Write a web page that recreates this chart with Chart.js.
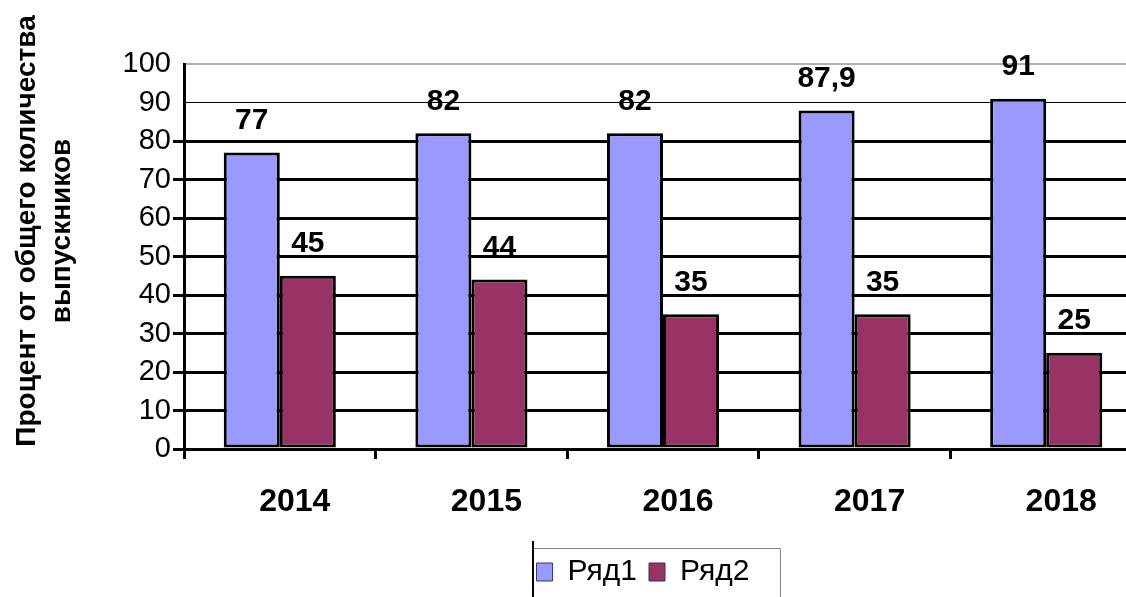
<!DOCTYPE html>
<html>
<head>
<meta charset="utf-8">
<script src="https://cdn.jsdelivr.net/npm/chart.js@4/dist/chart.umd.min.js"></script>
<style>
  html, body { margin: 0; padding: 0; background: #fff; overflow: hidden; }
  #wrap { width: 1142px; height: 597px; }
</style>
</head>
<body>
<div id="wrap"><canvas id="barChart"></canvas></div>
<script>
var years = ['2014', '2015', '2016', '2017', '2018'];
var series1 = [77, 82, 82, 87.9, 91];
var series2 = [45, 44, 35, 35, 25];
var labels1 = ['77', '82', '82', '87,9', '91'];
var labels2 = ['45', '44', '35', '35', '25'];
var yTitle = ['Процент от общего количества', 'выпускников'];

var font = '"Liberation Sans", Arial, sans-serif';

// value labels above each bar
var valueLabels = {
    id: 'valueLabels',
    afterDatasetsDraw: function (chart) {
        var c = chart.ctx;
        var texts = [labels1, labels2];
        c.save();
        c.font = 'bold 30px ' + font;
        c.fillStyle = '#000';
        c.textAlign = 'center';
        c.textBaseline = 'bottom';
        chart.data.datasets.forEach(function (ds, d) {
            chart.getDatasetMeta(d).data.forEach(function (bar, i) {
                c.fillText(texts[d][i], bar.x, bar.y - 17);
            });
        });
        c.restore();
    }
};

// rotated two-line axis title, legend shift and legend frame
var extras = {
    id: 'extras',
    afterLayout: function (chart) {
        chart.legend.left -= 20;
        chart.legend.right -= 20;
    },
    afterDraw: function (chart) {
        var c = chart.ctx;
        c.save();
        c.font = 'bold 28px ' + font;
        c.fillStyle = '#000';
        c.textAlign = 'center';
        c.textBaseline = 'middle';
        c.translate(0, 231);
        c.rotate(-Math.PI / 2);
        c.fillText(yTitle[0], 0, 27);
        c.fillText(yTitle[1], 0, 62);
        c.restore();

        var lg = chart.legend;
        c.save();
        c.font = '30px ' + font;
        var w = 0;
        lg.legendItems.forEach(function (it) { w += 16 + 15 + c.measureText(it.text).width; });
        w += 12 * (lg.legendItems.length - 1);
        var left = Math.round((lg.left + lg.right) / 2 - w / 2) - 4;
        var right = left + w + 34;
        var top = 548;
        c.strokeStyle = '#808080';
        c.lineWidth = 1;
        c.beginPath();
        c.moveTo(left, top + 0.5);
        c.lineTo(right + 0.5, top + 0.5);
        c.lineTo(right + 0.5, 600);
        c.stroke();
        c.strokeStyle = '#000';
        c.lineWidth = 2;
        c.beginPath();
        c.moveTo(left, top - 7);
        c.lineTo(left, 600);
        c.stroke();
        c.restore();
    }
};

var ctx = document.getElementById('barChart').getContext('2d');
var chart = new Chart(ctx, {
    type: 'bar',
    data: {
        labels: years,
        datasets: [{
            label: 'Ряд1',
            data: series1,
            backgroundColor: '#9999FF',
            borderColor: '#000000',
            borderWidth: 3,
            borderSkipped: false
        }, {
            label: 'Ряд2',
            data: series2,
            backgroundColor: '#993366',
            borderColor: '#000000',
            borderWidth: 3,
            borderSkipped: false
        }]
    },
    options: {
        responsive: true,
        maintainAspectRatio: false,
        animation: false,
        datasets: {
            bar: { barPercentage: 1, categoryPercentage: 0.585 }
        },
        layout: { padding: { top: 64, right: 0, bottom: 0, left: 0 } },
        plugins: {
            legend: {
                position: 'bottom',
                fullSize: false,
                labels: {
                    color: '#000',
                    font: { family: font, size: 30 },
                    boxWidth: 16,
                    boxHeight: 18,
                    padding: 12,
                    generateLabels: function (chart) {
                        var items = Chart.defaults.plugins.legend.labels.generateLabels(chart);
                        items.forEach(function (it) { it.lineWidth = 1; it.strokeStyle = '#333366'; });
                        return items;
                    }
                }
            },
            tooltip: { enabled: false }
        },
        scales: {
            x: {
                afterFit: function (s) { s.height = 96; },
                grid: {
                    drawOnChartArea: false,
                    drawTicks: true,
                    tickLength: 10,
                    tickColor: '#000',
                    tickWidth: 3
                },
                border: { color: '#000', width: 3 },
                ticks: {
                    color: '#000',
                    padding: 24,
                    labelOffset: 15,
                    font: { family: font, size: 32, weight: 'bold' }
                }
            },
            y: {
                min: 0,
                max: 100,
                afterFit: function (s) { s.width = 184; },
                grid: {
                    color: function (c) {
                        if (c.tick && c.tick.value === 100) return '#b0b0b0';
                        return '#000';
                    },
                    lineWidth: function (c) {
                        if (c.tick && c.tick.value === 100) return 2;
                        if (c.tick && c.tick.value === 90) return 1;
                        return 3;
                    },
                    tickColor: function (c) {
                        return (c.tick && c.tick.value >= 90) ? 'rgba(0,0,0,0)' : '#000';
                    },
                    tickLength: 11
                },
                border: { color: '#000', width: 3 },
                ticks: {
                    stepSize: 10,
                    autoSkip: false,
                    padding: 2,
                    color: '#000',
                    font: { family: font, size: 29 }
                }
            }
        }
    },
    plugins: [valueLabels, extras]
});
</script>
</body>
</html>
